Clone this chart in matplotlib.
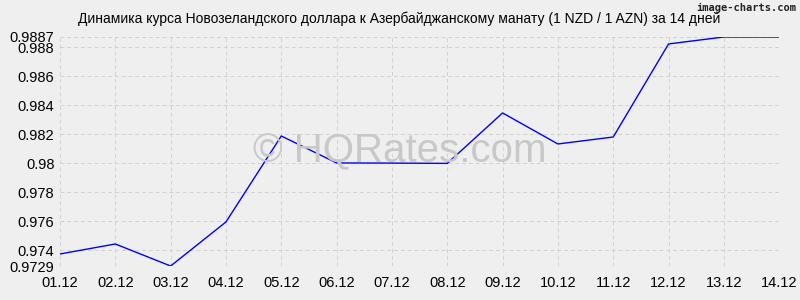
import matplotlib
matplotlib.use("Agg")
import matplotlib.pyplot as plt

plt.rcParams["font.family"] = ["Liberation Sans", "DejaVu Sans"]

dates = ["01.12", "02.12", "03.12", "04.12", "05.12", "06.12", "07.12",
         "08.12", "09.12", "10.12", "11.12", "12.12", "13.12", "14.12"]
rates = [0.97373, 0.97442, 0.9729, 0.97594, 0.98187, 0.98001, 0.98,
         0.97998, 0.98346, 0.98132, 0.98180, 0.98822, 0.9887, 0.9887]
y_ticks = [0.9729, 0.974, 0.976, 0.978, 0.98, 0.982, 0.984, 0.986, 0.988, 0.9887]
y_labels = ["0.9729", "0.974", "0.976", "0.978", "0.98", "0.982", "0.984",
            "0.986", "0.988", "0.9887"]
title = "Динамика курса Новозеландского доллара к Азербайджанскому манату (1 NZD / 1 AZN) за 14 дней"

BG = "#efefef"

fig = plt.figure(figsize=(8, 3), dpi=100, facecolor=BG)
ax = fig.add_axes([0.075, 0.1133, 0.899, 0.7634], facecolor=BG)

x = list(range(len(dates)))
ax.plot(x, rates, color="#0000ff", linewidth=1, zorder=3)

ax.set_xlim(0, len(dates) - 1)
ax.set_ylim(min(y_ticks), max(y_ticks))
ax.set_xticks(x)
ax.set_xticklabels(dates)
ax.set_yticks(y_ticks)
ax.set_yticklabels(y_labels)
ax.tick_params(length=0, labelsize=10.5, colors="#000000", pad=4)
ax.tick_params(axis="x", pad=7)

ax.grid(True, color="#d2d2d2", linestyle=(0, (4, 3)), linewidth=0.7)
for s in ax.spines.values():
    s.set_visible(False)

# watermark, centred on the figure rather than the axes
fig.text(0.5, 0.497, "© HQRates.com", fontsize=29, color="#c8c8c8",
         ha="center", va="center", zorder=0.5)

fig.text(0.4985, 0.938, title, ha="center", va="center", fontsize=10)
fig.text(0.995, 0.975, "image-charts.com", ha="right", va="center",
         fontsize=7.5, color="#222222", family="DejaVu Sans Mono",
         fontweight="bold")

fig.savefig("out.png", dpi=100, facecolor=BG)
